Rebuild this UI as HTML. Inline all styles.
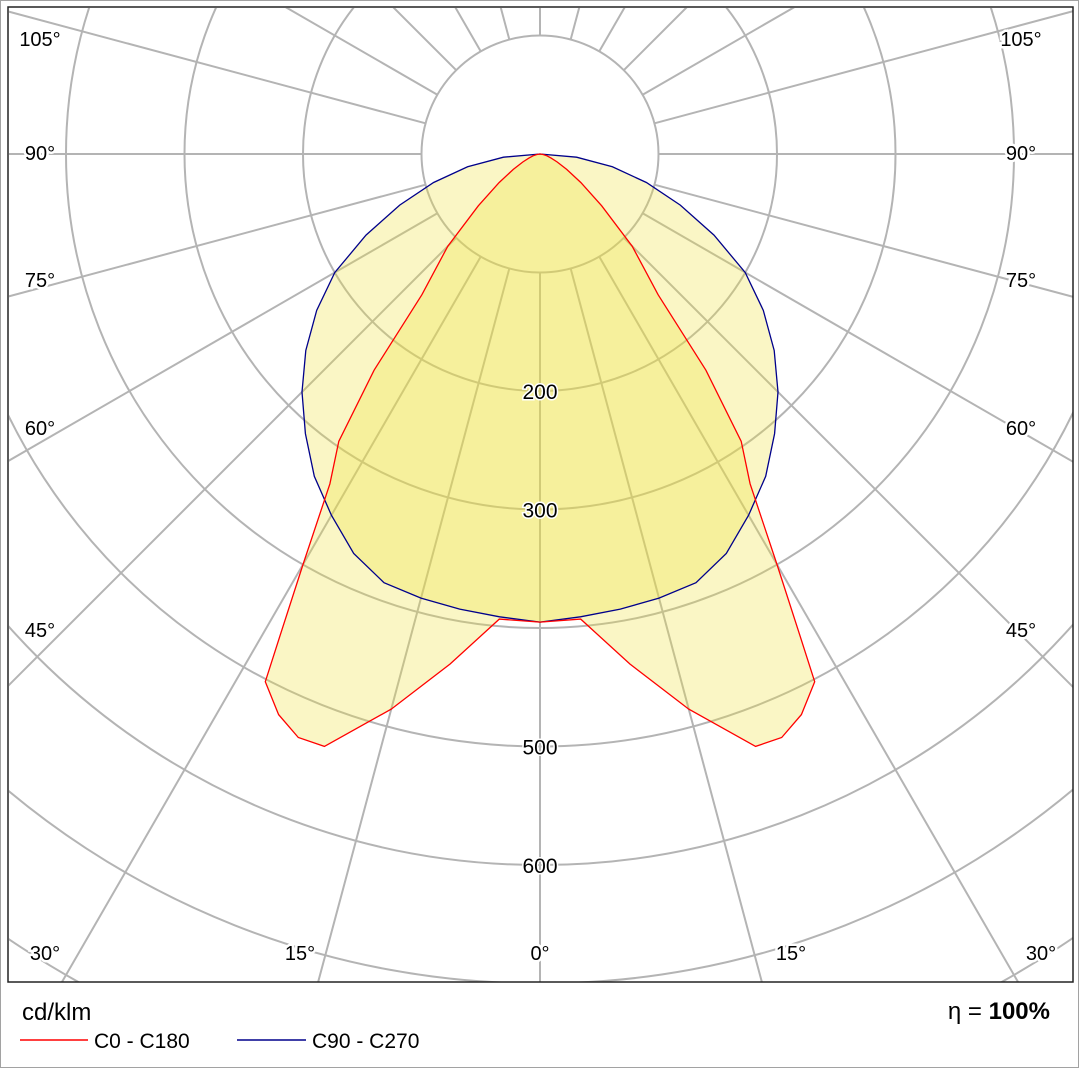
<!DOCTYPE html>
<html><head><meta charset="utf-8"><style>
html,body{margin:0;padding:0;background:#fff;overflow:hidden;width:1079px;height:1068px}
svg{display:block;font-family:"Liberation Sans",sans-serif}
</style></head><body>
<svg id="chart" width="1079" height="1068" viewBox="0 0 1079 1068">
<defs><clipPath id="clip"><rect x="9" y="8" width="1064" height="974"/></clipPath></defs>
<rect x="0.5" y="0.5" width="1078" height="1067" fill="#fff" stroke="#444" stroke-dasharray="1,1"/>
<g id="grid" clip-path="url(#clip)"></g>
<g id="series" clip-path="url(#clip)"></g>
<g id="labels"></g>
<rect x="8" y="7" width="1065" height="975" fill="none" stroke="#222" stroke-width="1.5"/>
<text x="22" y="1020" font-size="24">cd/klm</text>
<text x="1050" y="1019" font-size="24" text-anchor="end">η =  <tspan font-weight="bold">100%</tspan></text>
<line x1="20" y1="1040" x2="88" y2="1040" stroke="#f00" stroke-width="1.5"/>
<text x="94" y="1048" font-size="21">C0 - C180</text>
<line x1="237" y1="1040" x2="306" y2="1040" stroke="#00008b" stroke-width="1.5"/>
<text x="312" y="1048" font-size="21">C90 - C270</text>
</svg>
<script>
const gammaAngles=[0,5,10,15,20,22.5,25,27.5,28.5,30,32.5,35,37.5,40,45,50,55,60,65,70,75,80,85,90];
const c0Values=[395,394,437,485,532,533,522,502,456,400,330,296,230,155,110,68,42,26,16,10,6,3,1,0];
const c90Angles=[0,5,10,15,20,25,30,35,40,45,50,55,60,65,70,75,80,85,90];
const c90Values=[395,392,390,388,385,372,352,332,308,284,258,230,200,162,126,93,62,31,0];
const ringValues=[100,200,300,400,500,600,700,800,900,1000];
const ringLabels=["200","300","500","600"];
const angleLabels=[["105°",40,46,1010],["90°",40,160,1010],["75°",40,287,1010],["60°",40,435,1010],["45°",40,637,1010],["30°",45,960,1030],["15°",300,960,780]];
const CX=540,CY=154,K=1.185;
const ns="http://www.w3.org/2000/svg";
function rScale(v){return v*K;}
function pt(deg,v){const a=deg*Math.PI/180;return [CX+rScale(v)*Math.sin(a),CY+rScale(v)*Math.cos(a)];}
function mk(tag,attrs,parent){const e=document.createElementNS(ns,tag);for(const k in attrs)e.setAttribute(k,attrs[k]);parent.appendChild(e);return e;}
const grid=document.getElementById('grid'),series=document.getElementById('series'),labels=document.getElementById('labels');
ringValues.forEach(v=>{const c=mk('circle',{cx:CX,cy:CY,r:rScale(v),fill:'none',stroke:'#b4b4b4','stroke-width':2},grid);

});
for(let d=0;d<360;d+=15){const p1=pt(d,100),p2=pt(d,1100);const l=mk('line',{x1:p1[0],y1:p1[1],x2:p2[0],y2:p2[1],stroke:'#b4b4b4','stroke-width':2},grid);

}
function curvePath(angles,vals){const pts=[];angles.forEach((a,i)=>pts.push(pt(a,vals[i])));for(let i=angles.length-1;i>=0;i--)pts.push(pt(-angles[i],vals[i]));return 'M'+pts.map(p=>p[0].toFixed(1)+','+p[1].toFixed(1)).join('L')+'Z';}
const d90=curvePath(c90Angles,c90Values),d0=curvePath(gammaAngles,c0Values);
const f1=mk('path',{d:d90,fill:'#f0e040','fill-opacity':0.3},series);


const f2=mk('path',{d:d0,fill:'#f0e040','fill-opacity':0.3},series);


const l1=mk('path',{d:d90,fill:'none',stroke:'#00008b','stroke-width':1.3},series);


const l2=mk('path',{d:d0,fill:'none',stroke:'#f00','stroke-width':1.3},series);


ringLabels.forEach(s=>{const y=CY+rScale(+s)+8;const t=mk('text',{x:CX,y:y,'font-size':21,'text-anchor':'middle',stroke:'#fff','stroke-width':3,'paint-order':'stroke'},labels);t.textContent=s;

});
angleLabels.forEach(a=>{[a[1],a[3]].forEach((x,j)=>{const t=mk('text',{x:x+(j?11:0),y:a[2],'font-size':20,'text-anchor':'middle',stroke:'#fff','stroke-width':5,'paint-order':'stroke'},labels);t.textContent=a[0];

});});
const z=mk('text',{x:540,y:960,'font-size':20,'text-anchor':'middle',stroke:'#fff','stroke-width':5,'paint-order':'stroke'},labels);z.textContent='0°';


</script>
</body></html>
